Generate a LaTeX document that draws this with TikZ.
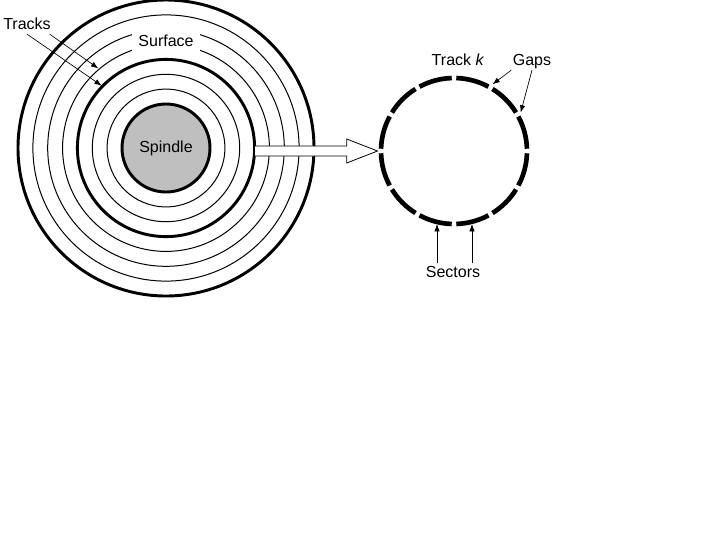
\documentclass[tikz,border=0pt]{standalone}
\usepackage{fontspec}
\setmainfont{Liberation Sans}
\usetikzlibrary{arrows.meta, calc}

\begin{document}
\begin{tikzpicture}[x=0.75pt, y=0.75pt,
    ring/.style={line width=0.75pt},
    thickring/.style={line width=2.2pt},
    sector/.style={line width=3.5pt},
    lbl/.style={font=\fontsize{12}{14}\selectfont, inner sep=2pt, text height=1.6ex, text depth=0.3ex},
    ptr/.style={-{Latex[length=5.5pt,width=4pt]}, line width=0.5pt},
    bigarrow/.style={draw, fill=white, line width=0.6pt}]
    \useasboundingbox (0,0) rectangle (720,-540);

    % Disk
    \coordinate (D) at (166,-148);
    \foreach \r in {58.9,73.7,103.4,118.3,133.1}
        \draw[ring] (D) circle (\r);
    \draw[thickring] (D) circle (88.6);
    \draw[thickring] (D) circle (148);
    \node[lbl, circle, draw, thickring, fill=black!25, minimum size=66pt] (spindle) at (D) {Spindle};

    % Track k
    \coordinate (T) at (454,-151);
    \foreach \a in {0,30,...,330}
        \draw[sector] (T) ++(\a+1.8:73) arc[start angle=\a+1.8, end angle=\a+28.2, radius=73];

    % Arrow from disk to track
    \coordinate (tip) at ($(T)+(-76.5,0)$);
    \draw[bigarrow] ($(tip)+(-122.5,5)$) -- ++(91.7,0) -- ++(0,7) -- (tip)
        -- ++(-30.8,-12) -- ++(0,7) -- ++(-91.7,0);

    % Labels
    \node[lbl, fill=white, minimum width=51pt, minimum height=21pt] (surface) at (166,-41.5) {Surface};
    \node[lbl] (tracks) at (27,-24.5) {Tracks};
    \node[lbl] (trackk) at (458,-60.5) {Track \textit{k}};
    \node[lbl] (gaps) at (532,-60.5) {Gaps};
    \node[lbl] (sectors) at (453,-273) {Sectors};

    % Pointers
    \coordinate (t1) at ($(D)+(130.4:104.5)$);
    \coordinate (t2) at ($(D)+(135.9:89.5)$);
    \draw[ptr] ([xshift=-3pt]tracks.south east) -- (t1);
    \draw[ptr] (tracks.south) -- (t2);

    \coordinate (g1) at ($(T)+(60:77)$);
    \coordinate (g2) at ($(T)+(30:77)$);
    \draw[ptr] ([xshift=1pt]gaps.south west) -- (g1);
    \draw[ptr] (gaps.south) -- (g2);

    \coordinate (s1) at (437,-224);
    \coordinate (s2) at (472,-224);
    \draw[ptr] (sectors.north -| s1) -- (s1);
    \draw[ptr] (sectors.north -| s2) -- (s2);
\end{tikzpicture}
\end{document}
